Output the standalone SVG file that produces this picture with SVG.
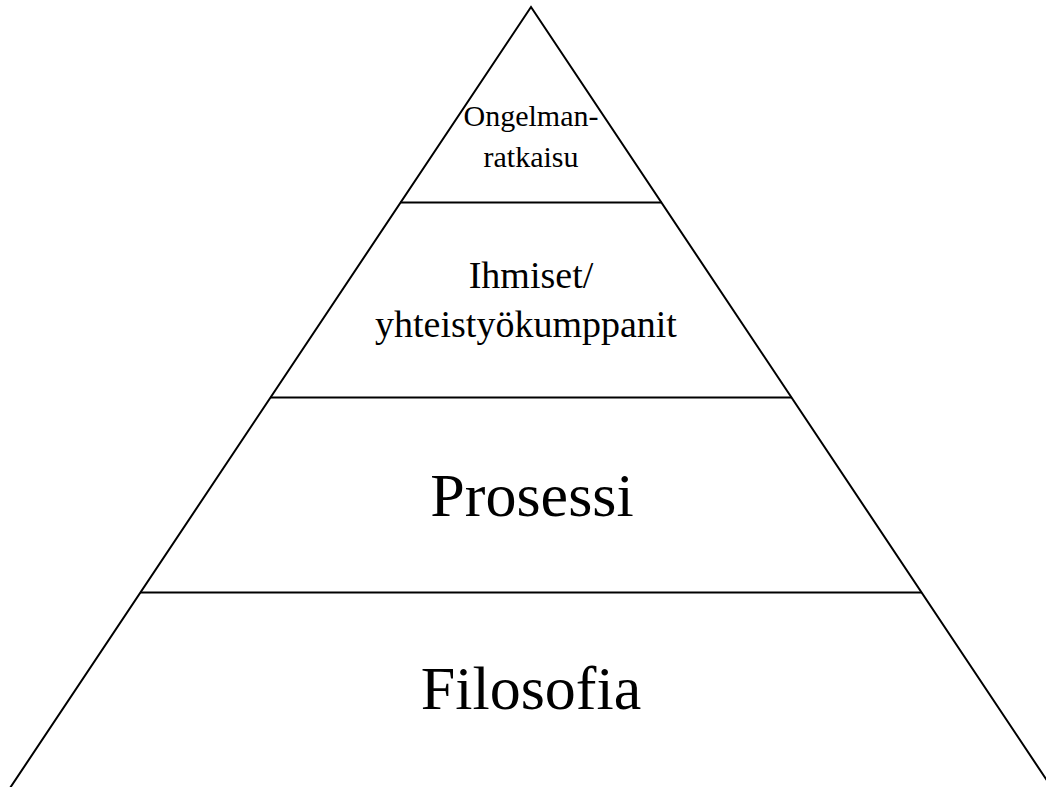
<svg xmlns="http://www.w3.org/2000/svg" width="1046" height="787" viewBox="0 0 1046 787">
  <style>
    .edge { stroke: #000; stroke-width: 2; fill: none; stroke-linejoin: miter; }
    .lbl { font-family: "Liberation Serif", "Times New Roman", serif; fill: #000; text-anchor: middle; }
  </style>
  <rect x="0" y="0" width="1046" height="787" fill="#fff"/>
  <!-- pyramid outline and level dividers -->
  <g id="connectors">
    <polyline class="edge" points="8,791 531,7 1054,791"/>
    <line class="edge" x1="400" y1="202.5" x2="662" y2="202.5"/>
    <line class="edge" x1="270" y1="397.5" x2="792" y2="397.5"/>
    <line class="edge" x1="140" y1="592.5" x2="922" y2="592.5"/>
  </g>
  <g id="level-ongelmanratkaisu">
    <text class="lbl" x="531" y="126" font-size="30">Ongelman-</text>
    <text class="lbl" x="531" y="167" font-size="30">ratkaisu</text>
  </g>
  <g id="level-ihmiset">
    <text class="lbl" x="531" y="288" font-size="38">Ihmiset/</text>
    <text class="lbl" x="526" y="337" font-size="38">yhteistyökumppanit</text>
  </g>
  <g id="level-prosessi">
    <text class="lbl" x="532" y="516" font-size="62">Prosessi</text>
  </g>
  <g id="level-filosofia">
    <text class="lbl" x="531" y="709" font-size="62">Filosofia</text>
  </g>
</svg>
